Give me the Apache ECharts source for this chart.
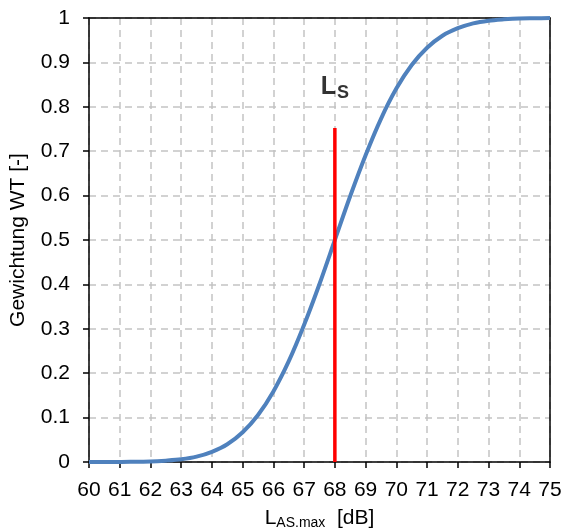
<!DOCTYPE html>
<html>
<head>
<meta charset="utf-8">
<script src="https://cdn.jsdelivr.net/npm/echarts@6/dist/echarts.min.js"></script>
<style>
  html, body { margin: 0; padding: 0; background: #fff; }
  #chart { width: 565px; height: 530px; }
</style>
</head>
<body>
<div id="chart"></div>
<script>
// weighting curve
var levels = [60, 60.5, 61, 61.5, 62, 62.5, 63, 63.5, 64, 64.5, 65, 65.5, 66, 66.5, 67, 67.5,
              68, 68.5, 69, 69.5, 70, 70.5, 71, 71.5, 72, 72.5, 73, 73.5, 74, 74.5, 75];
var weights = [0, 0, 0, 0.0005, 0.001, 0.003, 0.006, 0.012, 0.023, 0.04, 0.067, 0.106, 0.159, 0.227, 0.309, 0.401,
               0.5, 0.599, 0.691, 0.773, 0.841, 0.894, 0.933, 0.96, 0.977, 0.988, 0.994, 0.997, 0.999, 0.9995, 1];
var lsLevel = 68;
var lsTop = 0.752;
var lsLabelY = 0.845;

var chart = echarts.init(document.getElementById('chart'));
var font = 'Liberation Sans, Arial, sans-serif';
var gridLine = { show: true, lineStyle: { color: '#c4c4c4', type: [7, 5], width: 1.5 } };
var frameAxis = {
  axisLine: { show: true, onZero: false, lineStyle: { color: '#000', width: 1.5 } },
  axisTick: { show: false }, axisLabel: { show: false }, splitLine: { show: false }
};

chart.setOption({
  animation: false,
  grid: { left: 89, right: 15, top: 18, bottom: 68, containLabel: false, outerBoundsMode: 'none' },
  xAxis: [{
    type: 'value', min: 60, max: 75, interval: 1,
    name: '{l|L}{s|AS.max}{l|  [dB]}',
    nameLocation: 'middle', nameGap: 44,
    nameTextStyle: {
      rich: {
        l: { fontSize: 21, color: '#000', fontFamily: font },
        s: { fontSize: 14, color: '#000', fontFamily: font, verticalAlign: 'bottom', padding: [10, 0, 0, 0] }
      }
    },
    axisLine: { onZero: false, lineStyle: { color: '#000', width: 1.5 } },
    axisTick: { show: true, inside: false, length: 6, lineStyle: { color: '#000', width: 1.5 } },
    axisLabel: { color: '#000', fontSize: 21, fontFamily: font, margin: 18 },
    splitLine: gridLine
  }, Object.assign({ type: 'value', min: 60, max: 75, position: 'top' }, frameAxis)],
  yAxis: [{
    type: 'value', min: 0, max: 1, interval: 0.1,
    name: 'Gewichtung WT [-]',
    nameLocation: 'middle', nameGap: 60,
    nameTextStyle: { color: '#000', fontSize: 21, fontFamily: font },
    axisLine: { show: true, onZero: false, lineStyle: { color: '#000', width: 1.5 } },
    axisTick: { show: true, inside: false, length: 6, lineStyle: { color: '#000', width: 1.5 } },
    axisLabel: {
      color: '#000', fontSize: 21, fontFamily: font, margin: 19,
      formatter: function (v) { return +v.toFixed(1) + ''; }
    },
    splitLine: gridLine
  }, Object.assign({ type: 'value', min: 0, max: 1, position: 'right' }, frameAxis)],
  series: [
    {
      type: 'line',
      data: levels.map(function (x, i) { return [x, weights[i]]; }),
      smooth: 0.3,
      showSymbol: false,
      lineStyle: { color: '#4f81bd', width: 4 },
      z: 3
    },
    {
      type: 'line',
      data: [[lsLevel, 0], [lsLevel, lsTop]],
      showSymbol: false,
      lineStyle: { color: '#ff0000', width: 3.5 },
      z: 4
    },
    {
      type: 'scatter',
      data: [[lsLevel, lsLabelY]],
      symbolSize: 0,
      label: {
        show: true, position: 'inside',
        formatter: '{l|L}{s|S}',
        rich: {
          l: { fontSize: 25, fontWeight: 'bold', color: '#000', fontFamily: font },
          s: { fontSize: 18, fontWeight: 'bold', color: '#000', fontFamily: font, verticalAlign: 'bottom', padding: [12, 0, 0, 1] }
        }
      }
    }
  ]
});
</script>
</body>
</html>
